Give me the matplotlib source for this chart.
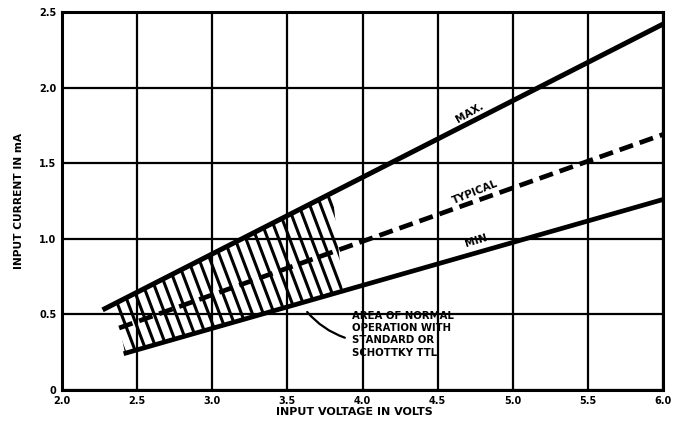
import numpy as np
import matplotlib
matplotlib.use("Agg")
import matplotlib.pyplot as plt
from matplotlib.patches import Polygon

# Data
max_x = [2.27, 6.0]
max_y = [0.53, 2.42]
typ_x = [2.38, 6.0]
typ_y = [0.41, 1.69]
min_x = [2.41, 6.0]
min_y = [0.24, 1.26]
# normal-operation area: x-range along MAX (top) and MIN (bottom) edges
area_top_x = [2.35, 3.80]
area_bot_x = [2.42, 3.87]

x_ticks = [2.0, 2.5, 3.0, 3.5, 4.0, 4.5, 5.0, 5.5, 6.0]
x_tick_labels = ["2.0", "2.5", "3.0", "3.5", "4.0", "4.5", "5.0", "5.5", "6.0"]
y_ticks = [0, 0.5, 1.0, 1.5, 2.0, 2.5]
y_tick_labels = ["0", "0.5", "1.0", "1.5", "2.0", "2.5"]

plt.rcParams['font.family'] = ['DejaVu Sans']
fig = plt.figure(figsize=(6.82, 4.32), dpi=100)
ax = fig.add_axes([62/682, 1-390/432, (663-62)/682, (390-12)/432])
ax.set_xlim(2.0, 6.0)
ax.set_ylim(0, 2.5)

ax.set_xticks(x_ticks)
ax.set_xticklabels(x_tick_labels, fontsize=7, fontweight='bold')
ax.set_yticks(y_ticks)
ax.set_yticklabels(y_tick_labels, fontsize=7, fontweight='bold')
ax.tick_params(length=0, pad=4)
ax.grid(True, color='black', linewidth=1.6)
ax.set_axisbelow(True)
for s in ax.spines.values():
    s.set_linewidth(2.2)

def line_fn(xs, ys):
    b = (ys[1]-ys[0])/(xs[1]-xs[0])
    a = ys[0]-b*xs[0]
    return a, b

amax, bmax = line_fn(max_x, max_y)
amin, bmin = line_fn(min_x, min_y)

poly = Polygon([(area_top_x[0], amax + bmax*area_top_x[0]),
                (area_top_x[1], amax + bmax*area_top_x[1]),
                (area_bot_x[1], amin + bmin*area_bot_x[1]),
                (area_bot_x[0], amin + bmin*area_bot_x[0])],
               closed=True, facecolor='none', edgecolor='none',
               transform=ax.transData)
ax.add_patch(poly)

# hatch lines across the normal-operation area
k = 0.38
for x0 in np.arange(2.0, 3.95, 0.061):
    ytop = amax + bmax*x0 + 0.2
    xt = x0 - k*0.2
    ybot = 0.0
    xb = x0 + k*(ytop - 0.2 - ybot)
    ln, = ax.plot([xt, xb], [ytop, ybot], color='black', lw=2.2,
                  solid_capstyle='butt')
    ln.set_clip_path(poly)

ax.plot(max_x, max_y, color='black', lw=3.6, solid_capstyle='butt')
ax.plot(min_x, min_y, color='black', lw=3.4, solid_capstyle='butt')
ax.plot(typ_x, typ_y, color='black', lw=3.4, dashes=(3, 1.5))

ax.text(4.71, 1.83, "MAX.", rotation=30, fontsize=7.5, fontweight='bold',
        ha='center', va='center')
ax.text(4.75, 1.31, "TYPICAL", rotation=22, fontsize=7.5, fontweight='bold',
        ha='center', va='center')
ax.text(4.77, 0.99, "MIN.", rotation=17, fontsize=7.5, fontweight='bold',
        ha='center', va='center')

ax.text(3.93, 0.525, "AREA OF NORMAL\nOPERATION WITH\nSTANDARD OR\nSCHOTTKY TTL",
        fontsize=7.3, fontweight='bold', ha='left', va='top', linespacing=1.3)
ax.annotate("", xy=(3.62, 0.53), xytext=(3.9, 0.34),
            arrowprops=dict(arrowstyle='-', color='black', lw=1.6,
                            connectionstyle='arc3,rad=-0.15'))

ax.set_xlabel("INPUT VOLTAGE IN VOLTS", fontsize=8, fontweight='bold')
ax.xaxis.set_label_coords(0.487, -0.045)
ax.set_ylabel("INPUT CURRENT IN mA", fontsize=7.7, fontweight='bold')
ax.yaxis.set_label_coords(-0.063, 0.5)

fig.savefig("out.png", dpi=100)
